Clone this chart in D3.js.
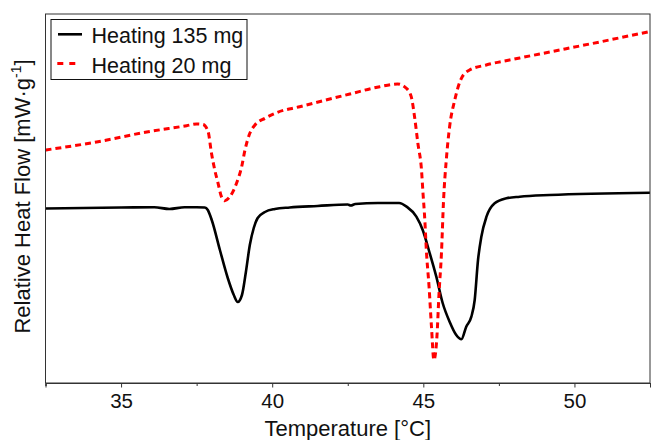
<!DOCTYPE html>
<html>
<head>
<meta charset="utf-8">
<script src="https://cdn.jsdelivr.net/npm/d3@7"></script>
<style>
  html, body { margin: 0; padding: 0; background: #fff; }
  svg { display: block; }
  text { font-family: "Liberation Sans", Arial, sans-serif; fill: #111; }
</style>
</head>
<body>
<svg id="chart" width="651" height="440"></svg>
<script>
// Temperature axis (°C)
const xDomain = [32.5, 52.5];
const majorTicks = [35, 40, 45, 50];
const minorTicks = [32.5, 37.5, 42.5, 47.5, 52.5];

// Relative heat flow (arbitrary offset units)
const yDomain = [0, 3.69];

// Heating 135 mg
const tempHeavy = [32.5, 35.0, 36.1, 36.6, 37.1, 37.5, 37.77, 37.87, 38.0, 38.27, 38.53, 38.73, 38.86, 39.0, 39.13, 39.26, 39.39, 39.52, 39.76, 40.09, 40.58, 41.5, 42.5, 42.6, 42.75, 43.5, 44.2, 44.45, 44.77, 44.98, 45.21, 45.43, 45.64, 45.87, 46.09, 46.26, 46.42, 46.59, 46.7, 46.81, 46.92, 47.09, 47.36, 47.75, 48.19, 49.18, 52.5];
const flowHeavy = [1.745, 1.755, 1.757, 1.74, 1.757, 1.757, 1.755, 1.73, 1.63, 1.33, 1.05, 0.88, 0.81, 0.88, 1.11, 1.38, 1.55, 1.65, 1.71, 1.74, 1.755, 1.77, 1.785, 1.775, 1.79, 1.80, 1.80, 1.763, 1.663, 1.53, 1.30, 1.063, 0.80, 0.613, 0.48, 0.437, 0.563, 0.663, 0.83, 1.23, 1.463, 1.663, 1.797, 1.847, 1.863, 1.88, 1.903];

// Heating 20 mg
const tempLight = [32.5, 34.19, 35.85, 37.17, 37.5, 37.71, 37.88, 37.99, 38.1, 38.21, 38.32, 38.43, 38.6, 38.82, 38.99, 39.1, 39.26, 39.43, 39.76, 40.14, 40.91, 42.57, 43.56, 44.15, 44.44, 44.6, 44.71, 44.82, 44.94, 44.99, 45.05, 45.1, 45.19, 45.27, 45.35, 45.45, 45.52, 45.6, 45.67, 45.76, 45.87, 46.04, 46.26, 46.53, 47.08, 48.19, 49.18, 50.83, 52.5];
const flowLight = [2.33, 2.41, 2.51, 2.573, 2.59, 2.585, 2.513, 2.30, 2.13, 1.997, 1.863, 1.823, 1.863, 1.997, 2.163, 2.33, 2.497, 2.58, 2.647, 2.703, 2.763, 2.89, 2.963, 2.99, 2.947, 2.863, 2.663, 2.397, 2.13, 1.897, 1.63, 1.33, 0.963, 0.563, 0.23, 0.463, 0.897, 1.297, 1.83, 2.23, 2.563, 2.83, 3.047, 3.13, 3.18, 3.25, 3.31, 3.41, 3.515];

const seriesNames = ["Heating 135 mg", "Heating 20 mg"];

const svg = d3.select("#chart");
const plotLeft = 45.5, plotRight = 650, plotTop = 14, plotBottom = 383;

const x = d3.scaleLinear().domain(xDomain).range([plotLeft, plotRight]);
const y = d3.scaleLinear().domain(yDomain).range([plotBottom, plotTop]);

svg.append("defs").append("clipPath").attr("id", "plotClip")
  .append("rect").attr("x", plotLeft).attr("y", plotTop)
  .attr("width", plotRight - plotLeft).attr("height", plotBottom - plotTop);

const line = d3.line()
  .x(d => x(d[0]))
  .y(d => y(d[1]))
  .curve(d3.curveMonotoneX);

const plot = svg.append("g").attr("clip-path", "url(#plotClip)");

plot.append("path")
  .datum(d3.zip(tempHeavy, flowHeavy))
  .attr("d", line)
  .attr("fill", "none")
  .attr("stroke", "#000")
  .attr("stroke-width", 2.6)
  .attr("stroke-linejoin", "round");

plot.append("path")
  .datum(d3.zip(tempLight, flowLight))
  .attr("d", line)
  .attr("fill", "none")
  .attr("stroke", "#ff0000")
  .attr("stroke-width", 3)
  .attr("stroke-dasharray", "6,4");

// Frame
svg.append("rect")
  .attr("x", plotLeft).attr("y", plotTop)
  .attr("width", plotRight - plotLeft).attr("height", plotBottom - plotTop)
  .attr("fill", "none").attr("stroke", "#333").attr("stroke-width", 1);

// Bottom axis: major and minor ticks
const axisMajor = d3.axisBottom(x).tickValues(majorTicks).tickSize(4.5).tickPadding(6)
  .tickFormat(d3.format("d"));
const axisMinor = d3.axisBottom(x).tickValues(minorTicks).tickSize(3).tickFormat("");

const gMinor = svg.append("g").attr("transform", `translate(0,${plotBottom})`).call(axisMinor);
const gMajor = svg.append("g").attr("transform", `translate(0,${plotBottom})`).call(axisMajor);
[gMinor, gMajor].forEach(g => {
  g.select(".domain").attr("stroke", "#333");
  g.selectAll(".tick line").attr("stroke", "#333");
});
gMajor.selectAll(".tick text")
  .style("font-family", "'Liberation Sans', Arial, sans-serif")
  .style("font-size", "20.5px")
  .attr("fill", "#111");

// Axis titles
svg.append("text")
  .attr("x", (plotLeft + plotRight) / 2).attr("y", 435.5)
  .attr("text-anchor", "middle")
  .style("font-size", "22px")
  .text("Temperature [°C]");

const yTitle = svg.append("text")
  .attr("transform", `translate(30,196.5) rotate(-90)`)
  .attr("text-anchor", "middle")
  .style("font-size", "22px");
yTitle.append("tspan").text("Relative Heat Flow [mW·g");
yTitle.append("tspan").attr("dy", -9).style("font-size", "14px").text("-1");
yTitle.append("tspan").attr("dy", 9).text("]");

// Legend
const legend = svg.append("g");
legend.append("rect")
  .attr("x", 51).attr("y", 19.5).attr("width", 196).attr("height", 60)
  .attr("fill", "#fff").attr("stroke", "#111").attr("stroke-width", 1);

legend.append("line")
  .attr("x1", 58).attr("x2", 82).attr("y1", 34.3).attr("y2", 34.3)
  .attr("stroke", "#000").attr("stroke-width", 2.6);
legend.append("line")
  .attr("x1", 57.3).attr("x2", 75.3).attr("y1", 63.5).attr("y2", 63.5)
  .attr("stroke", "#ff0000").attr("stroke-width", 3).attr("stroke-dasharray", "6,6");

legend.selectAll("text.entry")
  .data(seriesNames)
  .enter().append("text")
  .attr("class", "entry")
  .attr("x", 91.5)
  .attr("y", (d, i) => 43.3 + i * 29.4)
  .style("font-size", "21.5px")
  .text(d => d);
</script>
</body>
</html>
